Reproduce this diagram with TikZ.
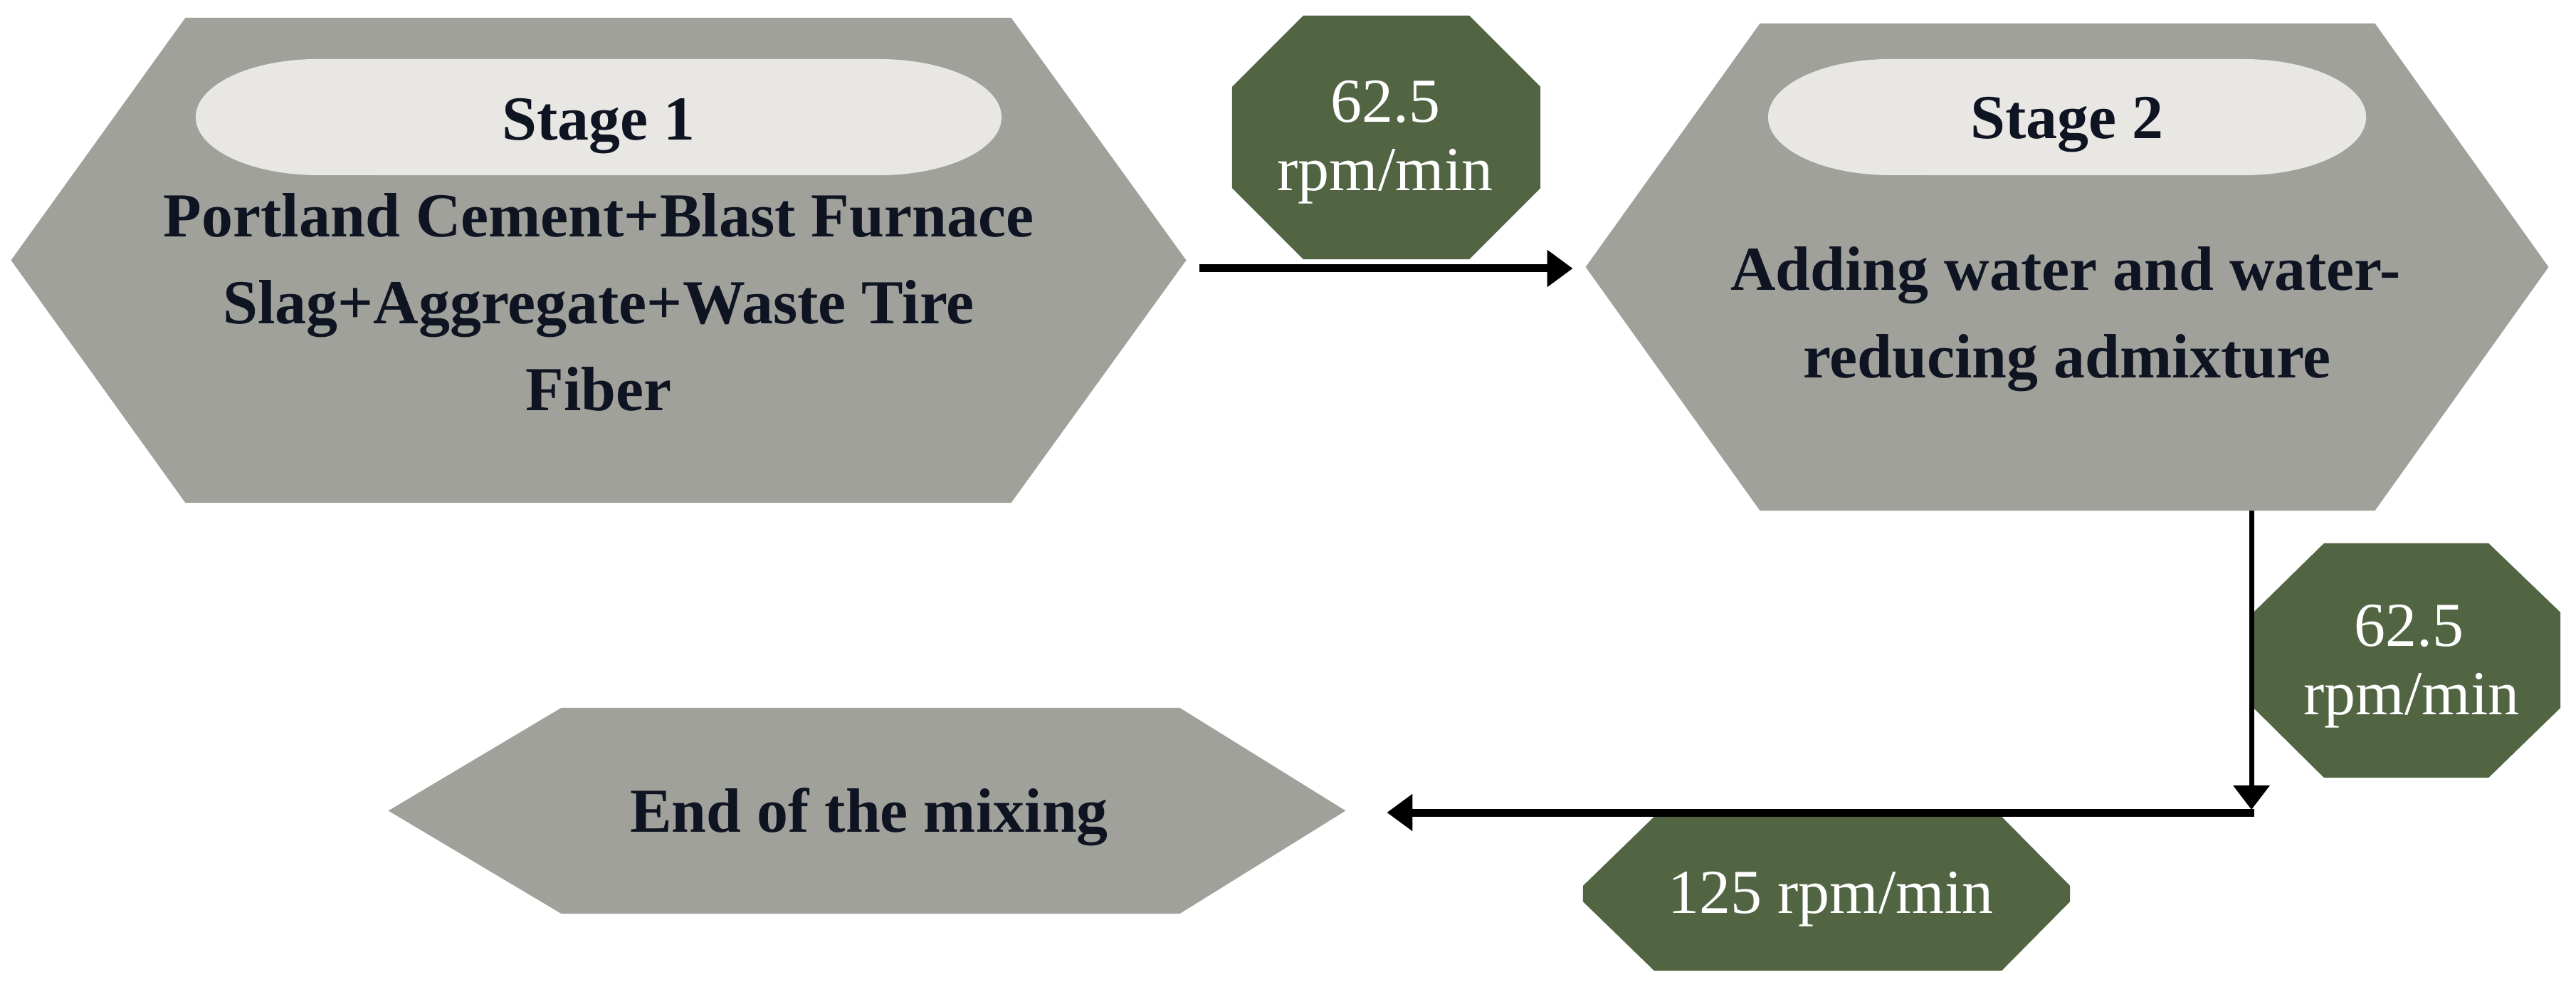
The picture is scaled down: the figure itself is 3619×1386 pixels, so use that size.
\documentclass[tikz,border=0pt]{standalone}
\usepackage{fontspec}
\setmainfont{Liberation Serif}
\usetikzlibrary{arrows.meta,calc}
\definecolor{hexgray}{RGB}{160,161,155}
\definecolor{pillc}{RGB}{232,231,227}
\definecolor{olive}{RGB}{81,101,67}
\definecolor{ink}{RGB}{14,20,33}
\begin{document}
\begin{tikzpicture}[x=0.01cm,y=-0.01cm,
  hexbox/.style={inner sep=0pt, outer sep=0pt, draw=none},
  dark/.style={font=\fontsize{25}{30}\selectfont\bfseries, text=ink, inner sep=0pt, anchor=base},
  light/.style={font=\fontsize{25}{30}\selectfont, text=white, inner sep=0pt, anchor=base},
  thickarrow/.style={line width=0.11cm, -{Triangle[width=0.5cm,length=0.36cm]}},
  thinarrow/.style={line width=0.07cm, -{Triangle[width=0.5cm,length=0.34cm]}}]
\useasboundingbox (0,0) rectangle (3619,1386);
\fill[white] (0,0) rectangle (3619,1386);

% ---------- Stage 1 ----------
\node[hexbox, minimum width=16.5cm, minimum height=6.81cm] (s1) at (841,365.5) {};
\fill[hexgray] (s1.west) -- ($(s1.north west)+(245,0)$) -- ($(s1.north east)+(-246,0)$)
  -- (s1.east) -- ($(s1.south east)+(-246,0)$) -- ($(s1.south west)+(245,0)$) -- cycle;
\fill[pillc] (447,83) -- (1235,83) arc[start angle=90,end angle=-90,x radius=1.72cm,y radius=0.815cm]
  -- (447,246) arc[start angle=270,end angle=90,x radius=1.72cm,y radius=0.815cm] -- cycle;
\node[dark] (p1) at (841,197) {Stage 1};
\node[dark] (s1a) at (841,333) {Portland Cement+Blast Furnace};
\node[dark] (s1b) at (841,455) {Slag+Aggregate+Waste Tire};
\node[dark] (s1c) at (841,577) {Fiber};

% ---------- Stage 2 ----------
\node[hexbox, minimum width=13.52cm, minimum height=6.84cm] (s2) at (2904,375) {};
\fill[hexgray] (s2.west) -- ($(s2.north west)+(245,0)$) -- ($(s2.north east)+(-244,0)$)
  -- (s2.east) -- ($(s2.south east)+(-244,0)$) -- ($(s2.south west)+(245,0)$) -- cycle;
\fill[pillc] (2656,83) -- (3152,83) arc[start angle=90,end angle=-90,x radius=1.72cm,y radius=0.815cm]
  -- (2656,246) arc[start angle=270,end angle=90,x radius=1.72cm,y radius=0.815cm] -- cycle;
\node[dark] (p2) at (2904,195) {Stage 2};
\node[dark] (s2a) at (2902,408) {Adding water and water-};
\node[dark] (s2b) at (2904,531) {reducing admixture};

% ---------- End ----------
\node[hexbox, minimum width=13.44cm, minimum height=2.89cm] (e) at (1218,1138.5) {};
\fill[hexgray] (e.west) -- ($(e.north west)+(243,0)$) -- ($(e.north east)+(-233,0)$)
  -- (e.east) -- ($(e.south east)+(-233,0)$) -- ($(e.south west)+(243,0)$) -- cycle;
\node[dark] (et) at (1221,1168) {End of the mixing};

% ---------- Speed tag 1 ----------
\node[hexbox, minimum width=4.33cm, minimum height=3.42cm] (o1) at (1947.5,193) {};
\fill[olive] ($(o1.north west)+(100,0)$) -- ($(o1.north east)+(-100,0)$)
  -- ($(o1.north east)+(0,100)$) -- ($(o1.south east)+(0,-100)$)
  -- ($(o1.south east)+(-100,0)$) -- ($(o1.south west)+(100,0)$)
  -- ($(o1.south west)+(0,-100)$) -- ($(o1.north west)+(0,100)$) -- cycle;
\node[light] (o1a) at (1946,172) {62.5};
\node[light] (o1b) at (1946,268) {rpm/min};

% ---------- Speed tag 2 ----------
\node[hexbox, minimum width=4.31cm, minimum height=3.29cm] (o2) at (3381.5,927.5) {};
\fill[olive] ($(o2.north west)+(99,0)$) -- ($(o2.north east)+(-101,0)$)
  -- ($(o2.north east)+(0,97)$) -- ($(o2.south east)+(0,-98)$)
  -- ($(o2.south east)+(-101,0)$) -- ($(o2.south west)+(99,0)$)
  -- ($(o2.south west)+(0,-98)$) -- ($(o2.north west)+(0,97)$) -- cycle;
\node[light] (o2a) at (3384,907) {62.5};
\node[light] (o2b) at (3388,1003) {rpm/min};

% ---------- Speed tag 3 ----------
\node[hexbox, minimum width=6.84cm, minimum height=2.16cm] (o3) at (2566,1255) {};
\fill[olive] ($(o3.north west)+(100,0)$) -- ($(o3.north east)+(-96,0)$)
  -- ($(o3.east)+(0,-11)$) -- ($(o3.east)+(0,11)$)
  -- ($(o3.south east)+(-96,0)$) -- ($(o3.south west)+(100,0)$)
  -- ($(o3.west)+(0,11)$) -- ($(o3.west)+(0,-11)$) -- cycle;
\node[light] (o3a) at (2572,1282) {125 rpm/min};

% ---------- Connectors ----------
\coordinate (c1) at (3163,1141);
\draw[thickarrow] ($(s1.east)+(18,11.5)$) -- ($(s2.west)+(-18,2)$);
\draw[thinarrow] ($(s2.south)+(259,0)$) -- ($(c1)+(0,-4)$);
\draw[thickarrow] ($(c1)+(4,0)$) -- ($(e.east)+(58,2.5)$);
\end{tikzpicture}
\end{document}
